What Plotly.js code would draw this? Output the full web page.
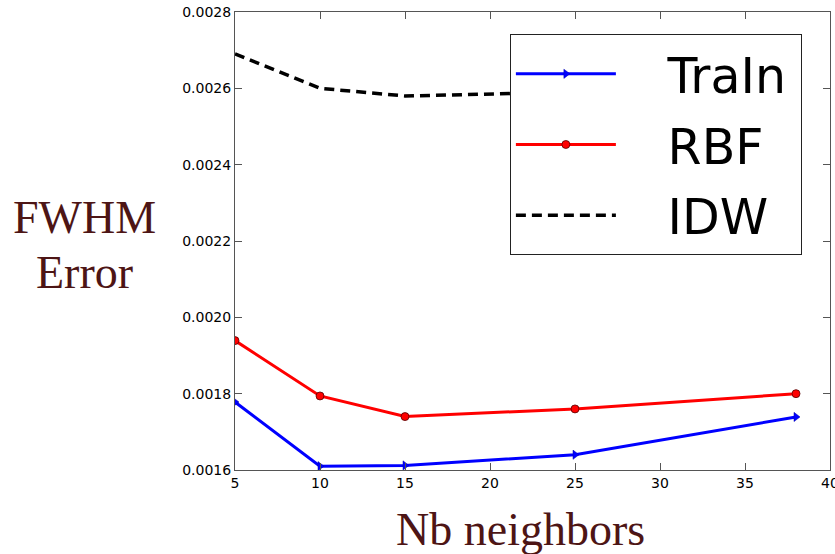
<!DOCTYPE html>
<html><head><meta charset="utf-8">
<script src="https://cdn.plot.ly/plotly-3.0.1.min.js"></script>
<style>html,body{margin:0;padding:0;background:#fff}#chart{width:835px;height:554px}</style>
</head><body><div id="chart"></div>
<script>
const neighbors = [5, 10, 15, 25, 38];
const trainErr = [0.001778, 0.001610, 0.001612, 0.001640, 0.001739];
const rbfErr = [0.001939, 0.001794, 0.001740, 0.001760, 0.001800];
const idwErr = [0.002690, 0.002600, 0.002580, 0.002590, 0.002600];
const seriesNames = ['TraIn', 'RBF', 'IDW'];
const xTicks = [5, 10, 15, 20, 25, 30, 35, 40];
const yTicks = [0.0016, 0.0018, 0.0020, 0.0022, 0.0024, 0.0026, 0.0028];

const pad = '\u00a0\u00a0\u00a0';
const tail = '\u2009';
const traces = [
  {x: neighbors, y: trainErr, name: pad + seriesNames[0] + tail, legendgroup: 'a', mode: 'lines+markers',
   line: {color: '#0000ff', width: 3},
   marker: {symbol: 'triangle-right', size: 8, color: '#0000ff', line: {color: '#0000aa', width: 0.5}}},
  {x: neighbors, y: rbfErr, name: pad + seriesNames[1] + tail, legendgroup: 'b', mode: 'lines+markers',
   line: {color: '#ff0000', width: 3},
   marker: {symbol: 'circle', size: 8, color: '#ff0000', line: {color: '#550000', width: 0.8}}},
  {x: neighbors, y: idwErr, name: pad + seriesNames[2] + tail, legendgroup: 'c', mode: 'lines',
   line: {color: '#000000', width: 3.5, dash: '10px,6px'}}
];
const titleColor = '#4d1515';
const layout = {
  width: 835, height: 554,
  margin: {l: 235, r: 5, t: 12, b: 84},
  paper_bgcolor: '#fff', plot_bgcolor: '#fff',
  showlegend: true,
  legend: {x: 0.462, y: 0.951, xanchor: 'left', yanchor: 'top',
    bgcolor: '#fff', bordercolor: '#222', borderwidth: 1,
    traceorder: 'grouped', tracegroupgap: 4,
    font: {family: 'DejaVu Sans', size: 49, color: '#000'},
    itemwidth: 100},
  xaxis: {range: [5, 40], tickvals: xTicks, ticktext: xTicks.map(String),
    ticks: 'inside', ticklen: 7, tickcolor: '#555', mirror: 'ticks',
    ticklabeloverflow: 'allow',
    showline: true, linecolor: '#555', linewidth: 1, showgrid: false, zeroline: false,
    tickfont: {family: 'DejaVu Sans', size: 14, color: '#000'}},
  yaxis: {range: [0.0016, 0.0028], tickvals: yTicks, ticktext: yTicks.map(v => v.toFixed(4)),
    ticks: 'inside', ticklen: 7, tickcolor: '#555', mirror: 'ticks',
    showline: true, linecolor: '#555', linewidth: 1, showgrid: false, zeroline: false,
    tickfont: {family: 'DejaVu Sans', size: 14, color: '#000'}},
  annotations: [
    {xref: 'paper', yref: 'paper', x: -0.253, y: 0.551, xanchor: 'center', yanchor: 'middle',
     text: 'FWHM', showarrow: false,
     font: {family: 'Liberation Serif', size: 46, color: titleColor}},
    {xref: 'paper', yref: 'paper', x: -0.253, y: 0.431, xanchor: 'center', yanchor: 'middle',
     text: 'Error', showarrow: false,
     font: {family: 'Liberation Serif', size: 46, color: titleColor}},
    {xref: 'paper', yref: 'paper', x: 0.479, y: -0.13, xanchor: 'center', yanchor: 'middle',
     text: 'Nb neighbors', showarrow: false,
     font: {family: 'Liberation Serif', size: 46, color: titleColor}}
  ]
};
Plotly.newPlot('chart', traces, layout, {displayModeBar: false, staticPlot: true});
</script></body></html>
